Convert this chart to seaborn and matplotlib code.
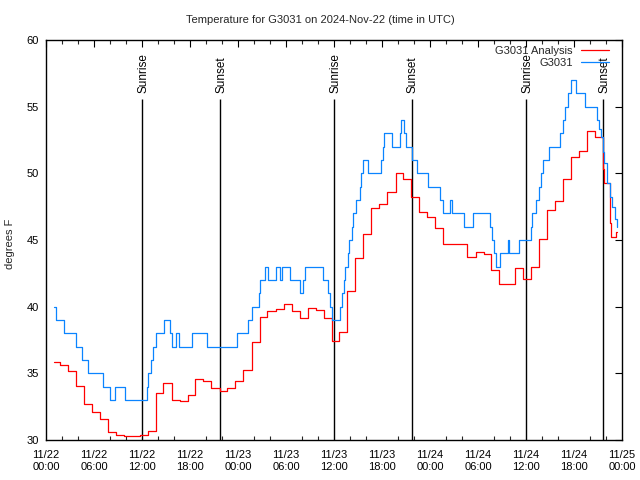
import matplotlib
matplotlib.use("Agg")
import matplotlib.pyplot as plt
import seaborn as sns
import pandas as pd
import numpy as np

# ---------------- data (hours since 2024-11-22 00:00 UTC) ----------------
obs_hours = [1.0, 1.2, 2.2, 3.8, 4.5, 5.2, 7.1, 8.0, 8.6, 9.9, 12.6, 12.8, 13.1, 13.4,
             13.75, 14.7, 15.5, 15.8, 16.3, 16.6, 18.3, 20.1, 23.9, 25.3, 25.75, 26.6,
             26.75, 27.4, 27.75, 28.7, 29.25, 29.5, 30.5, 31.75, 32.1, 32.4, 34.6, 35.2,
             35.5, 35.75, 36.75, 37.0, 37.2, 37.4, 37.7, 37.9, 38.2, 38.4, 38.7, 39.2,
             39.4, 39.6, 40.3, 41.9, 42.1, 42.3, 43.2, 44.2, 44.4, 44.7, 45.0, 45.7,
             46.4, 47.7, 49.25, 49.6, 50.5, 50.8, 52.3, 53.4, 55.5, 55.8, 56.0, 56.3,
             56.8, 57.7, 57.9, 59.1, 60.6, 60.8, 61.2, 61.6, 61.85, 62.1, 62.9, 64.3,
             64.6, 64.9, 65.25, 65.6, 66.2, 67.4, 68.9, 69.15, 69.4, 69.65, 69.8, 70.1,
             70.5, 70.75, 71.1, 71.4]
obs_temps = [40, 39, 38, 37, 36, 35, 34, 33, 34, 33, 34, 35, 36, 37,
             38, 39, 38, 37, 38, 37, 38, 37, 38, 39, 40, 41,
             42, 43, 42, 43, 42, 43, 42, 41, 42, 43, 42, 41,
             40, 39, 40, 41, 42, 43, 44, 45, 46, 47, 48, 49,
             50, 51, 50, 51, 52, 53, 52, 53, 54, 53, 52, 51,
             50, 49, 48, 47, 48, 47, 46, 47, 46, 45, 44, 43,
             44, 45, 44, 45, 46, 47, 48, 49, 50, 51, 52, 53,
             54, 55, 56, 57, 56, 55, 54, 53.3, 52.75, 51.6, 50.75, 49.25,
             48.25, 47.5, 46.6, 46.0]

ana_hours = [1.0, 1.75, 2.75, 3.75, 4.75, 5.75, 6.75, 7.75, 8.75, 9.7, 11.75, 12.75,
             13.7, 14.67, 15.75, 16.75, 17.75, 18.67, 19.67, 20.67, 21.75, 22.67, 23.67,
             24.6, 25.75, 26.75, 27.67, 28.75, 29.8, 30.75, 31.8, 32.8, 33.8, 34.8, 35.75,
             36.67, 37.6, 38.67, 39.6, 40.6, 41.6, 42.6, 43.7, 44.6, 45.6, 46.6, 47.6,
             48.67, 49.67, 52.6, 53.7, 54.7, 55.67, 56.67, 58.6, 59.6, 60.67, 61.67, 62.67,
             63.67, 64.67, 65.6, 66.67, 67.67, 68.67, 69.6, 69.75, 70.5, 70.6, 71.3, 71.4]
ana_temps = [35.83, 35.6, 35.15, 34.05, 32.7, 32.1, 31.55, 30.6, 30.4, 30.3, 30.4, 30.7,
             33.5, 34.3, 33.0, 32.9, 33.35, 34.6, 34.4, 33.9, 33.7, 33.9, 34.4,
             35.25, 37.35, 39.2, 39.7, 39.85, 40.2, 39.65, 39.15, 39.9, 39.75, 39.15, 37.4,
             38.1, 41.2, 43.65, 45.45, 47.4, 47.7, 48.6, 50.05, 49.55, 48.2, 47.1, 46.7,
             45.9, 44.7, 43.7, 44.1, 43.95, 42.75, 41.7, 42.9, 42.1, 42.95, 45.1, 47.25,
             47.95, 49.55, 51.2, 51.65, 53.15, 52.7, 50.3, 49.3, 46.25, 45.2, 45.6, 45.6]

sun_labels = ["Sunrise", "Sunset", "Sunrise", "Sunset", "Sunrise", "Sunset"]
sun_hours = [12.05, 21.8, 36.05, 45.7, 60.05, 69.65]

tick_hours = list(range(0, 73, 6))
tick_labels = ["11/22\n00:00", "11/22\n06:00", "11/22\n12:00", "11/22\n18:00",
               "11/23\n00:00", "11/23\n06:00", "11/23\n12:00", "11/23\n18:00",
               "11/24\n00:00", "11/24\n06:00", "11/24\n12:00", "11/24\n18:00",
               "11/25\n00:00"]

title = "Temperature for G3031 on 2024-Nov-22 (time in UTC)"
ylabel = "degrees F"
series_names = ["G3031 Analysis", "G3031"]
series_colors = ["#ff0000", "#0a84ff"]

# ---------------- plot ----------------
sns.set_style("white")
FONT = ["Liberation Sans", "DejaVu Sans"]
FS = 8
plt.rcParams["font.family"] = FONT
plt.rcParams["font.size"] = FS

fig = plt.figure(figsize=(6.4, 4.8), dpi=100)
ax = fig.add_axes([46 / 640, 40 / 480, 576 / 640, 400 / 480])

df_ana = pd.DataFrame({"hour": ana_hours, "temp": ana_temps})
df_obs = pd.DataFrame({"hour": obs_hours, "temp": obs_temps})

sns.lineplot(data=df_ana, x="hour", y="temp", ax=ax, color=series_colors[0],
             drawstyle="steps-post", lw=0.9, estimator=None, label=series_names[0])
sns.lineplot(data=df_obs, x="hour", y="temp", ax=ax, color=series_colors[1],
             drawstyle="steps-post", lw=0.9, estimator=None, label=series_names[1])

ax.set_xlim(0, 72)
ax.set_ylim(30, 60)

line_top = 55.55
ax.vlines(sun_hours, 30, line_top, color="black", lw=1.0, zorder=1)
for h, lab in zip(sun_hours, sun_labels):
    ax.text(h + 0.1, line_top + 0.5, lab, rotation=90, ha="center", va="bottom",
            fontsize=FS + 0.5, color="black")

ax.set_xticks(tick_hours)
ax.set_xticklabels(tick_labels, linespacing=1.3)
ax.set_xticks(np.arange(0, 73, 2), minor=True)
ax.set_yticks(np.arange(30, 61, 5))
ax.tick_params(axis="both", which="major", direction="in", length=5, width=0.8,
               top=True, right=True, pad=5, labelsize=FS, colors="black")
ax.tick_params(axis="x", which="minor", direction="in", length=3, width=0.8,
               top=True, bottom=True)
ax.tick_params(axis="x", which="major", pad=7)

for s in ax.spines.values():
    s.set_color("black")
    s.set_linewidth(1.0)
    s.set_visible(True)

ax.set_xlabel("")
ax.set_ylabel(ylabel, fontsize=FS, va="center")
ax.yaxis.set_label_coords(-36 / 576, 0.49)
ax.set_title(title, fontsize=FS, pad=12, x=(320 - 46) / 576)

ax.legend(loc="upper right", bbox_to_anchor=(1 - 7 / 576, 1), frameon=False,
          markerfirst=False, fontsize=FS, handlelength=2.6, handletextpad=0.7,
          labelspacing=0.25, borderaxespad=0.2, borderpad=0.3)

fig.savefig("out.png", dpi=100)
